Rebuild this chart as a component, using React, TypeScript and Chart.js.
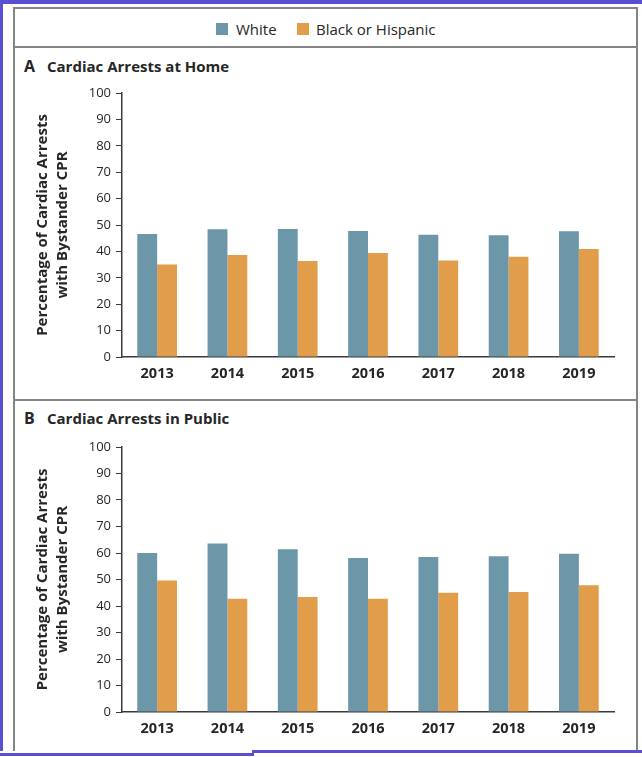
import React, { useEffect, useRef } from 'react';
import { Chart, registerables } from 'chart.js';

Chart.register(...registerables);

const years = ['2013', '2014', '2015', '2016', '2017', '2018', '2019'];
const homeWhite = [46.6, 48.4, 48.5, 47.7, 46.3, 46.1, 47.6];
const homeBlackHispanic = [35.0, 38.6, 36.4, 39.4, 36.6, 38.0, 40.9];
const publicWhite = [60.0, 63.6, 61.4, 58.1, 58.5, 58.8, 59.7];
const publicBlackHispanic = [49.6, 42.7, 43.4, 42.7, 45.0, 45.3, 47.8];
const seriesLabels = ['White', 'Black or Hispanic'];
const panelTitles = ['Cardiac Arrests at Home', 'Cardiac Arrests in Public'];
const panelLetters = ['A', 'B'];
const yTitle = ['Percentage of Cardiac Arrests', 'with Bystander CPR'];
const yMin = 0;
const yMax = 100;
const yStep = 10;

const BLUE = '#6b97a9';
const ORANGE = '#e29d4a';
const FONT = '"Open Sans", "Noto Sans", sans-serif';
const INK = '#262626';
const FRAME = '#858585';
const PURPLE = '#5a4fd0';

type PanelProps = {
  white: number[];
  other: number[];
  top: number;
  height: number;
  padTop: number;
  xHeight: number;
};

function Panel({ white, other, top, height, padTop, xHeight }: PanelProps) {
  const ref = useRef<HTMLCanvasElement | null>(null);
  useEffect(() => {
    if (!ref.current) return;
    const chart = new Chart(ref.current, {
      type: 'bar',
      data: {
        labels: years,
        datasets: [
          { label: seriesLabels[0], data: white, backgroundColor: BLUE, borderWidth: 0 },
          { label: seriesLabels[1], data: other, backgroundColor: ORANGE, borderWidth: 0 },
        ],
      },
      options: {
        responsive: false,
        animation: false,
        devicePixelRatio: 1,
        layout: { padding: { top: padTop, right: 28, bottom: 0, left: 0 } },
        plugins: {
          legend: { display: false },
          tooltip: { enabled: false },
          title: { display: false },
        },
        datasets: {
          bar: { categoryPercentage: 0.565, barPercentage: 1.0 },
        },
        scales: {
          x: {
            grid: { display: true, drawOnChartArea: false, drawTicks: false },
            border: { display: true, color: '#3a3a3a', width: 1.5 },
            ticks: {
              color: INK,
              padding: 8,
              font: { family: FONT, size: 14.5, weight: 'bold' },
              maxRotation: 0,
            },
            afterFit: (s: any) => {
              s.height = xHeight;
            },
          },
          y: {
            min: yMin,
            max: yMax,
            grid: {
              display: true,
              drawOnChartArea: false,
              drawTicks: true,
              tickLength: 6,
              color: '#3a3a3a',
              lineWidth: 1,
            },
            border: { display: true, color: '#3a3a3a', width: 1.5 },
            ticks: {
              stepSize: yStep,
              color: INK,
              padding: 5,
              font: { family: FONT, size: 13 },
            },
            title: {
              display: true,
              text: yTitle,
              color: INK,
              font: { family: FONT, size: 15, weight: 'bold', lineHeight: 20 / 15 },
              padding: { top: 33, bottom: 0 },
            },
            afterFit: (s: any) => {
              s.width = 122;
            },
          },
        },
      },
    });
    return () => chart.destroy();
  }, [white, other, padTop, xHeight]);
  return (
    <canvas
      ref={ref}
      width={642}
      height={height}
      style={{ position: 'absolute', left: 0, top, width: 642, height }}
    />
  );
}

const abs = (s: React.CSSProperties): React.CSSProperties => ({ position: 'absolute', ...s });

export default function App() {
  const titleStyle: React.CSSProperties = {
    fontFamily: FONT,
    fontWeight: 700,
    fontSize: 15,
    lineHeight: '15px',
    color: INK,
    whiteSpace: 'nowrap',
  };
  const legendText: React.CSSProperties = {
    fontFamily: FONT,
    fontSize: 15,
    lineHeight: '15px',
    color: INK,
    whiteSpace: 'nowrap',
  };
  return (
    <div style={abs({ left: 0, top: 0, width: 642, height: 757, background: '#fff', overflow: 'hidden' })}>
      {/* frame */}
      <div style={abs({ left: 13, top: 7, width: 621, height: 780, border: `2px solid ${FRAME}` })} />
      <div style={abs({ left: 13, top: 46, width: 624, height: 2, background: FRAME })} />
      <div style={abs({ left: 13, top: 399, width: 624, height: 2, background: FRAME })} />

      {/* legend */}
      <div style={abs({ left: 216, top: 23, width: 12, height: 12, background: BLUE })} />
      <div style={abs({ left: 236, top: 21.5, ...legendText })}>{seriesLabels[0]}</div>
      <div style={abs({ left: 297, top: 23, width: 12, height: 12, background: ORANGE })} />
      <div style={abs({ left: 316, top: 21.5, ...legendText })}>{seriesLabels[1]}</div>

      {/* panel titles */}
      <div style={abs({ left: 24, top: 59, ...titleStyle, fontSize: 16 })}>{panelLetters[0]}</div>
      <div style={abs({ left: 47, top: 59, ...titleStyle })}>{panelTitles[0]}</div>
      <div style={abs({ left: 24, top: 410.5, ...titleStyle, fontSize: 16 })}>{panelLetters[1]}</div>
      <div style={abs({ left: 47, top: 410.5, ...titleStyle })}>{panelTitles[1]}</div>

      <Panel white={homeWhite} other={homeBlackHispanic} top={80} height={310} padTop={13} xHeight={33} />
      <Panel white={publicWhite} other={publicBlackHispanic} top={433} height={310} padTop={14} xHeight={31} />

      {/* screenshot edge decorations */}
      <div style={abs({ left: 0, top: 0, width: 642, height: 4, background: PURPLE })} />
      <div style={abs({ left: 0, top: 0, width: 3, height: 757, background: PURPLE })} />
      <div style={abs({ left: 0, top: 751, width: 642, height: 6, background: '#fff' })} />
      <div style={abs({ left: 0, top: 753, width: 253, height: 3, background: PURPLE })} />
      <div style={abs({ left: 252, top: 750, width: 390, height: 3, background: PURPLE })} />
      <div style={abs({ left: 252, top: 750, width: 2, height: 6, background: PURPLE })} />
    </div>
  );
}
